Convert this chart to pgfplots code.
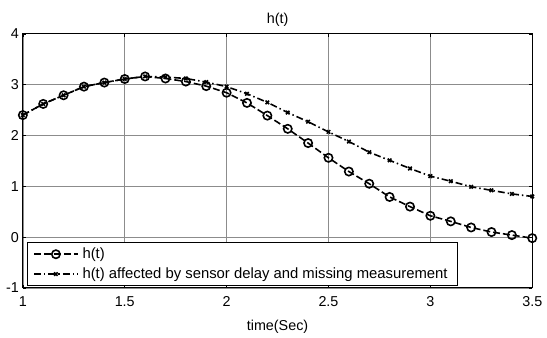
\documentclass[border=0pt]{standalone}
\usepackage{pgfplots}
\pgfplotsset{compat=1.18}
\usepackage{fontspec}
\setmainfont{Liberation Sans}
\begin{document}
\fontsize{14.5}{17}\selectfont
\begin{tikzpicture}
\begin{axis}[
  at={(0bp,0bp)}, anchor=south west,
  scale only axis,
  width=513bp, height=256bp,
  xmin=1, xmax=3.5, ymin=-1, ymax=4,
  xtick={1,1.5,2,2.5,3,3.5},
  ytick={-1,0,1,2,3,4},
  xticklabels={1,1.5,2,2.5,3,3.5},
  /pgf/number format/assume math mode=true,
  tick align=inside,
  major tick length=3bp,
  tick style={black, line width=0.5bp},
  grid=major,
  major grid style={black!45, line width=0.6bp},
  axis line style={black, line width=1bp},
  ticklabel style={font=\fontsize{14.5}{17}\selectfont},
  xticklabel style={yshift=-4bp},
  yticklabel style={xshift=1bp},
  title={h(t)},
  title style={font=\fontsize{14.5}{17}\selectfont, yshift=-4bp},
  xlabel={time(Sec)},
  xlabel style={font=\fontsize{14.5}{17}\selectfont, yshift=-3bp},
  legend style={at={(rel axis cs:0,0)}, anchor=south west, xshift=4bp, yshift=2bp,
    draw=black, line width=1bp, font=\fontsize{15}{17}\selectfont,
    inner xsep=6bp, inner ysep=3bp, row sep=3bp, fill=white,
    nodes={inner xsep=4bp}},
  legend cell align=left,
  legend image code/.code={\draw[mark repeat=2,mark phase=2,#1] plot coordinates {(0bp,0bp) (22bp,0bp) (44bp,0bp)};},
]
\addplot[black, line width=1.6bp, dash pattern=on 7bp off 3bp, mark=o, mark size=4.2bp, mark options={solid, line width=1.6bp}]
coordinates {
(1.0,2.40) (1.1,2.62) (1.2,2.79) (1.3,2.96) (1.4,3.04) (1.5,3.11) (1.6,3.16) (1.7,3.12)
(1.8,3.06) (1.9,2.97) (2.0,2.84) (2.1,2.64) (2.2,2.39) (2.3,2.13) (2.4,1.85) (2.5,1.56)
(2.6,1.29) (2.7,1.05) (2.8,0.79) (2.9,0.60) (3.0,0.42) (3.1,0.31) (3.2,0.19) (3.3,0.10)
(3.4,0.04) (3.5,-0.02)
};
\addlegendentry{h(t)}
\addplot[black, line width=1.6bp, dash pattern=on 7bp off 3bp on 1.5bp off 3bp, mark=x, mark size=2.5bp, mark options={solid, line width=1.6bp}]
coordinates {
(1.0,2.40) (1.1,2.62) (1.2,2.79) (1.3,2.96) (1.4,3.04) (1.5,3.11) (1.6,3.16) (1.7,3.15)
(1.8,3.12) (1.9,3.05) (2.0,2.96) (2.1,2.82) (2.2,2.65) (2.3,2.45) (2.4,2.27) (2.5,2.07)
(2.6,1.88) (2.7,1.67) (2.8,1.51) (2.9,1.35) (3.0,1.20) (3.1,1.10) (3.2,0.99) (3.3,0.92)
(3.4,0.85) (3.5,0.80)
};
\addlegendentry{h(t) affected by sensor delay and missing measurement}
\end{axis}
\path[use as bounding box] (-23bp,-42bp) rectangle (524bp,290bp);
\end{tikzpicture}
\end{document}
